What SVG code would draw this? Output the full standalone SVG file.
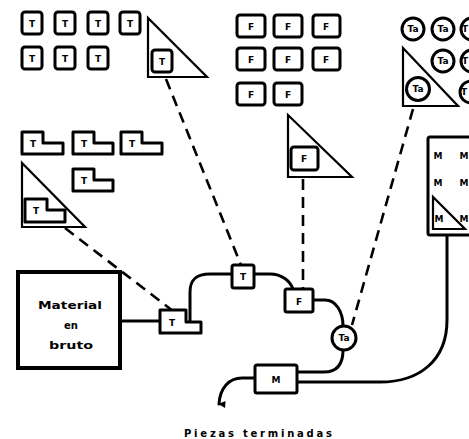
<svg xmlns="http://www.w3.org/2000/svg" width="469" height="439" viewBox="0 0 469 439">
<style>
.bx{fill:#fff;stroke:#000;stroke-width:3;stroke-linejoin:round}
.tri{fill:none;stroke:#000;stroke-width:2.2;stroke-linejoin:miter}
.lb{font-family:"DejaVu Sans",sans-serif;font-weight:bold;font-size:9px;text-anchor:middle;fill:#000}
.ln{fill:none;stroke:#000;stroke-width:3;stroke-linecap:round}
.ds{fill:none;stroke:#000;stroke-width:2.6;stroke-dasharray:11 7}
.tx{font-family:"DejaVu Sans",sans-serif;font-weight:bold;font-size:10px;text-anchor:middle;fill:#000}
</style>
<defs>
<marker id="ah" viewBox="0 0 10 10" refX="5" refY="9" markerWidth="7" markerHeight="9" orient="auto-start-reverse" markerUnits="userSpaceOnUse">
<path d="M0 0 L10 0 L5 10 Z" fill="#000"/>
</marker>
</defs>
<rect width="469" height="439" fill="#fff"/>

<g id="connectors">
<path class="ds" d="M166 79 L241 265"/>
<path class="ds" d="M65 228 L173 311"/>
<path class="ds" d="M303 179 L303 289"/>
<path class="ds" d="M413 109 L352 325"/>
<path class="ln" d="M120 321 H160"/>
<path class="ln" d="M190 322 V292 C190 280 196 274 210 274 H232"/>
<path class="ln" d="M254 274 H270 C282 274 290 281 293 289"/>
<path class="ln" d="M313 300 H325 C336 300 343 312 343 326"/>
<path class="ln" d="M343 350 C343 364 337 372 324 372 H297"/>
<path class="ln" d="M447 235 V320 C447 360 420 382 380 382 H297"/>
<path class="ln" d="M255 378 H242 C229 378 220 388 219 404" marker-end="url(#ah)"/>
</g>

<g id="pool-T">
<rect class="bx" x="22" y="12" width="20" height="22" rx="3"/><text class="lb" x="32" y="27">T</text>
<rect class="bx" x="55" y="12" width="20" height="22" rx="3"/><text class="lb" x="65" y="27">T</text>
<rect class="bx" x="88" y="12" width="20" height="22" rx="3"/><text class="lb" x="98" y="27">T</text>
<rect class="bx" x="120" y="12" width="20" height="22" rx="3"/><text class="lb" x="130" y="27">T</text>
<rect class="bx" x="22" y="47" width="20" height="22" rx="3"/><text class="lb" x="32" y="62">T</text>
<rect class="bx" x="55" y="47" width="20" height="22" rx="3"/><text class="lb" x="65" y="62">T</text>
<rect class="bx" x="88" y="47" width="20" height="22" rx="3"/><text class="lb" x="98" y="62">T</text>
<path class="tri" d="M148 18 L148 77 L207 77 Z"/>
<rect class="bx" x="152" y="50" width="20" height="22" rx="3"/><text class="lb" x="162" y="65">T</text>
</g>

<g id="pool-L">
<path class="bx" d="M22 132 H43 V143 H63 V154 H22 Z"/><text class="lb" x="33" y="147">T</text>
<path class="bx" d="M73 132 H94 V143 H113 V154 H73 Z"/><text class="lb" x="84" y="147">T</text>
<path class="bx" d="M121 132 H142 V143 H162 V154 H121 Z"/><text class="lb" x="132" y="147">T</text>
<path class="bx" d="M73 169 H94 V180 H113 V191 H73 Z"/><text class="lb" x="84" y="184">T</text>
<path class="tri" d="M22 163 L22 227 L85 227 Z"/>
<path class="bx" d="M25 199 H47 V210 H65 V222 H25 Z"/><text class="lb" x="36" y="214">T</text>
</g>

<g id="pool-F">
<rect class="bx" x="237" y="15" width="28" height="22" rx="3"/><text class="lb" x="251" y="30">F</text>
<rect class="bx" x="274" y="15" width="28" height="22" rx="3"/><text class="lb" x="288" y="30">F</text>
<rect class="bx" x="313" y="15" width="27" height="22" rx="3"/><text class="lb" x="326" y="30">F</text>
<rect class="bx" x="237" y="48" width="28" height="22" rx="3"/><text class="lb" x="251" y="63">F</text>
<rect class="bx" x="274" y="48" width="28" height="22" rx="3"/><text class="lb" x="288" y="63">F</text>
<rect class="bx" x="313" y="48" width="27" height="22" rx="3"/><text class="lb" x="326" y="63">F</text>
<rect class="bx" x="237" y="83" width="28" height="22" rx="3"/><text class="lb" x="251" y="98">F</text>
<rect class="bx" x="274" y="83" width="28" height="22" rx="3"/><text class="lb" x="288" y="98">F</text>
<path class="tri" d="M288 115 L288 177 L352 177 Z"/>
<rect class="bx" x="291" y="147" width="27" height="23" rx="3"/><text class="lb" x="304" y="162">F</text>
</g>

<g id="pool-Ta">
<circle class="bx" cx="413" cy="29" r="11"/><text class="lb" x="413" y="32">Ta</text>
<circle class="bx" cx="443" cy="29" r="11"/><text class="lb" x="443" y="32">Ta</text>
<circle class="bx" cx="472" cy="29" r="11"/><text class="lb" x="465" y="32">T</text>
<circle class="bx" cx="443" cy="61" r="11"/><text class="lb" x="443" y="64">Ta</text>
<circle class="bx" cx="472" cy="61" r="11"/><text class="lb" x="465" y="64">T</text>
<circle class="bx" cx="471" cy="92" r="11"/><text class="lb" x="464" y="95">T</text>
<path class="tri" d="M403 48 L403 106 L458 106 Z"/>
<circle class="bx" cx="418" cy="89" r="11.5"/><text class="lb" x="418" y="92">Ta</text>
</g>

<g id="pool-M">
<rect class="bx" x="428" y="137" width="50" height="98" rx="2"/>
<text class="lb" x="438" y="159">M</text><text class="lb" x="464" y="159">M</text>
<text class="lb" x="438" y="186">M</text><text class="lb" x="464" y="186">M</text>
<text class="lb" x="464" y="222">M</text>
<path class="tri" d="M433 197 L433 229 L465 229 Z"/>
<text class="lb" x="439" y="222">M</text>
</g>

<g id="material">
<rect x="18" y="272" width="102" height="96" fill="#fff" stroke="#000" stroke-width="4"/>
<text class="tx" x="70" y="309" textLength="64" lengthAdjust="spacingAndGlyphs">Material</text>
<text class="tx" x="71" y="329">en</text>
<text class="tx" x="71" y="349" textLength="44" lengthAdjust="spacingAndGlyphs">bruto</text>
</g>

<g id="node-T1">
<path class="bx" d="M160 310 H186 V322 H201 V333 H160 Z"/><text class="lb" x="172" y="326">T</text>
</g>
<g id="node-T2">
<rect class="bx" x="232" y="265" width="22" height="23" rx="2"/><text class="lb" x="243" y="280">T</text>
</g>
<g id="node-F">
<rect class="bx" x="285" y="289" width="28" height="23" rx="2"/><text class="lb" x="299" y="305">F</text>
</g>
<g id="node-Ta">
<circle class="bx" cx="344" cy="338" r="12"/><text class="lb" x="344" y="341">Ta</text>
</g>
<g id="node-M">
<rect class="bx" x="255" y="365" width="42" height="28" rx="2"/><text class="lb" x="276" y="383">M</text>
</g>

<text class="tx" x="258" y="437" textLength="148" lengthAdjust="spacing">Piezas terminadas</text>
</svg>
